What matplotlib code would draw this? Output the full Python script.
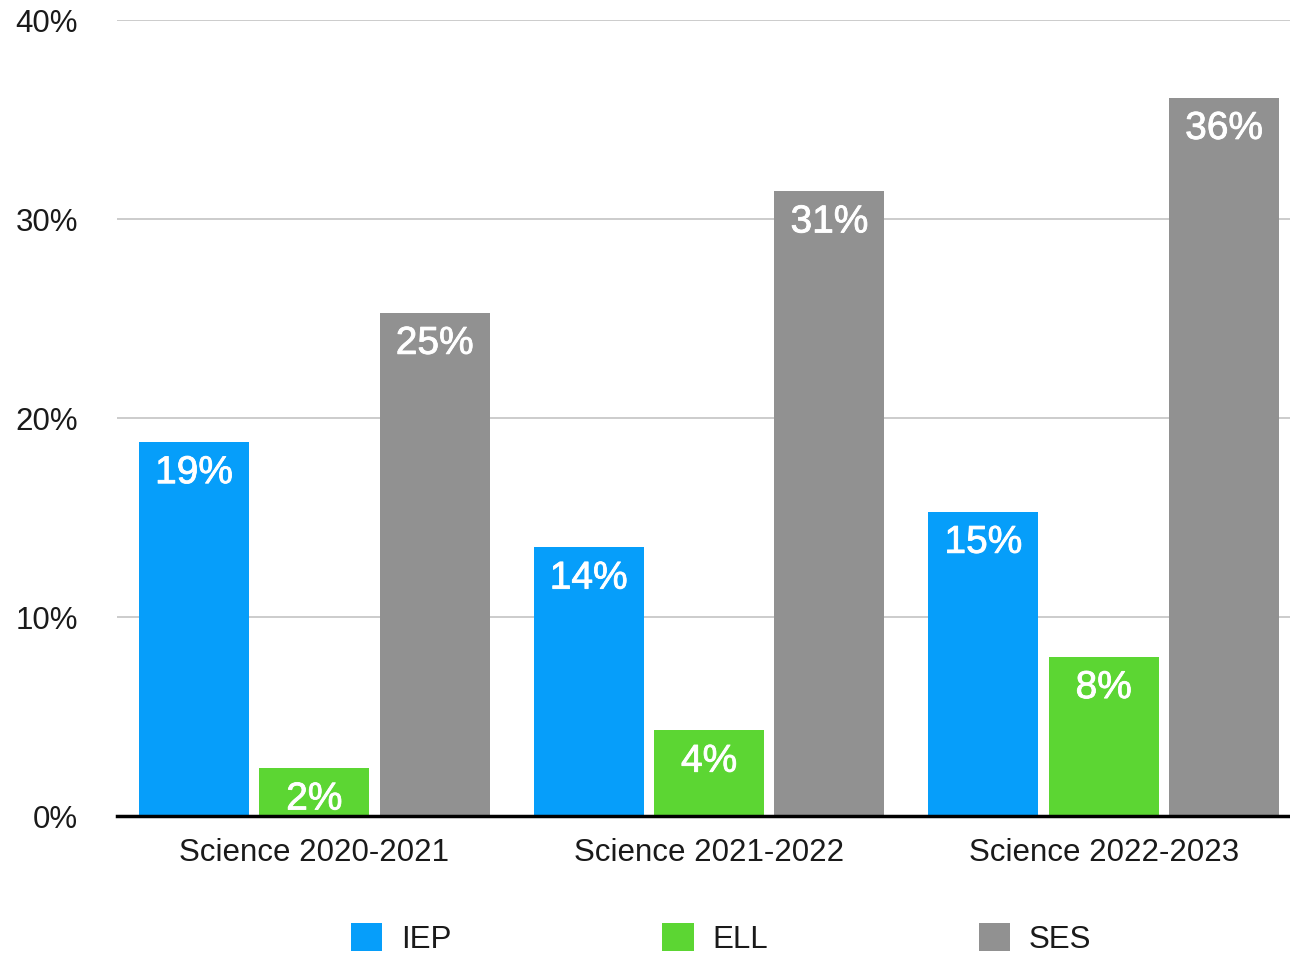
import matplotlib
matplotlib.use("Agg")
import matplotlib.pyplot as plt
import matplotlib.patheffects as pe
import numpy as np

categories = ["Science 2020-2021", "Science 2021-2022", "Science 2022-2023"]
series_names = ["IEP", "ELL", "SES"]
iep = [18.8, 13.5, 15.3]
ell = [2.4, 4.3, 8.0]
ses = [25.3, 31.4, 36.1]
labels_iep = ["19%", "14%", "15%"]
labels_ell = ["2%", "4%", "8%"]
labels_ses = ["25%", "31%", "36%"]
yticks = [0, 10, 20, 30, 40]
ytick_labels = ["0%", "10%", "20%", "30%", "40%"]

colors = ["#069EFA", "#5CD633", "#919191"]

plt.rcParams['font.family'] = ['Liberation Sans', 'DejaVu Sans']

fig = plt.figure(figsize=(12.9, 9.55), dpi=100)
ax = fig.add_axes([0.0907, 0.1455, 0.909, 0.8335])

x = np.arange(len(categories))
width = 0.279
offset = 0.305
data = [iep, ell, ses]
labs = [labels_iep, labels_ell, labels_ses]
for i, (vals, lab, col, name) in enumerate(zip(data, labs, colors, series_names)):
    bars = ax.bar(x + (i - 1) * offset, vals, width, color=col, label=name, zorder=3)
    for b, t in zip(bars, lab):
        ax.annotate(t, (b.get_x() + b.get_width() / 2, b.get_height()),
                    xytext=(0, -22.5), textcoords='offset points',
                    ha='center', va='center', color='white',
                    fontsize=28, fontweight='normal', zorder=4,
                    path_effects=[pe.withStroke(linewidth=0.6, foreground='white')])

ax.set_xlim(-0.5, 2.471)
ax.set_ylim(0, 40)
ax.set_yticks(yticks)
ax.set_yticklabels(ytick_labels)
ax.set_xticks(x)
ax.set_xticklabels(categories)
ax.tick_params(axis='y', length=0, pad=28, labelsize=22.5, labelcolor='#1a1a1a')
ax.tick_params(axis='x', length=0, pad=16, labelsize=22.5, labelcolor='#1a1a1a')
ax.yaxis.grid(True, color='#c8c8c8', linewidth=1.3, zorder=0)
for s in ['top', 'right', 'left']:
    ax.spines[s].set_visible(False)
ax.spines['bottom'].set_color('black')
ax.spines['bottom'].set_linewidth(2.5)
ax.spines['bottom'].set_zorder(5)

fig.legend(loc='center', bbox_to_anchor=(0.559, 0.017), ncol=3, frameon=False,
           fontsize=22.5, handlelength=1.0, handleheight=1.0, handletextpad=0.6,
           columnspacing=6.75, labelcolor='#1a1a1a')

fig.savefig("out.png", dpi=100)
